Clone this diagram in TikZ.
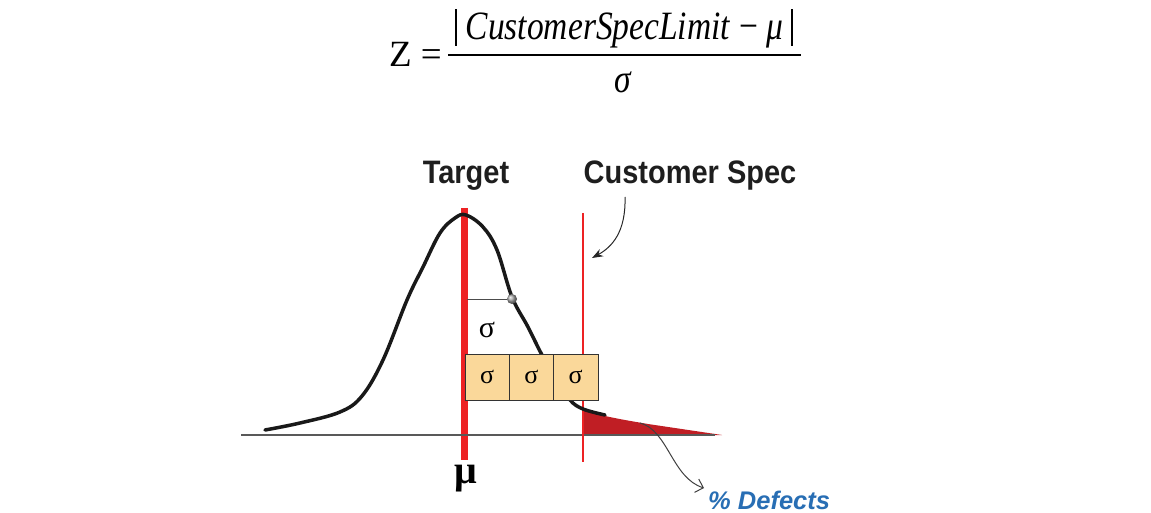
\documentclass[tikz,border=0pt]{standalone}
\usepackage{fontspec}
\setmainfont{Liberation Serif}
\setsansfont{Liberation Sans}
\usepackage{graphicx}
\definecolor{tgtred}{RGB}{237,34,36}
\definecolor{defred}{RGB}{192,30,36}
\definecolor{boxfill}{RGB}{250,216,154}
\definecolor{defblue}{RGB}{40,110,180}
\definecolor{labelink}{RGB}{30,30,30}
\usetikzlibrary{arrows.meta,positioning,calc}

\begin{document}
\begin{tikzpicture}[x=1pt,y=-1pt,
  sigbox/.style={draw=black!80, fill=boxfill, line width=0.8pt, minimum width=44.3pt,
    minimum height=46pt, inner sep=0pt, outer sep=0pt, font=\fontsize{26}{28}\selectfont},
  headlabel/.style={font=\sffamily\bfseries\fontsize{29}{32}\selectfont, text=labelink, inner sep=0pt},
  formula/.style={font=\fontsize{33.5}{36}\selectfont, inner sep=0pt}]
\useasboundingbox (0,0) rectangle (1151,513);

% Z formula
\node[formula, font=\fontsize{37}{40}\selectfont, anchor=base east] (zeq) at (442,67) {Z =};
\node[formula, anchor=base] (num) at (624,40)
  {\scalebox{1}[1.2]{\rule[-5pt]{1.5pt}{31pt}\hspace{9pt}\textit{CustomerSpecLimit} − \textit{μ}\hspace{8pt}\rule[-5pt]{1.5pt}{31pt}}};
\draw[line width=1.6pt] (448,55) -- (801,55);
\node[formula] (den) at (623,82) {\scalebox{1}[1.2]{\textit{σ}}};

% Headings
\node[headlabel, anchor=base] (target) at (466,184) {\scalebox{1}[1.12]{Target}};
\node[headlabel, anchor=base] (spec) at (690,184) {\scalebox{1}[1.12]{Customer Spec}};

% Defect tail
\fill[defred] (583,435) -- (583,410) .. controls (605,417) and (625,420) .. (648,424) -- (722,435) -- cycle;

% Axis and limit lines
\draw[tgtred, line width=7pt] (464,208) -- (464,460);
\draw[black!65, line width=1.2pt] (241,435) -- (715,435);
\draw[tgtred, line width=1.2pt] (583,213) -- (583,462);

% Bell curve
\draw[line width=3.5pt, black!90, line cap=round] plot[smooth, tension=0.6] coordinates {
  (265,430) (300,423) (340,412) (362,396) (383,360) (407,300) (423,267) (440,233)
  (455,218) (466,215) (483,227) (497,250) (512,297) (528,327) (542,355) (556,379)
  (570,400) (583,409) (605,415)};

% One sigma marker
\coordinate (sigfoot) at (467,299);
\node[circle, ball color=black!35, inner sep=0pt, minimum size=10pt] (dot) at (512,299) {};
\draw[black!70, line width=0.9pt] (sigfoot) -- (dot);
\node[font=\fontsize{30}{32}\selectfont] (sigfree) at (487,330) {σ};

% Three sigma boxes
\node[sigbox, anchor=north west] (sg1) at (465,354) {σ};
\node[sigbox, right=0pt of sg1] (sg2) {σ};
\node[sigbox, right=0pt of sg2] (sg3) {σ};

% Mean label
\node[font=\bfseries\fontsize{40}{42}\selectfont] (mu) at (466,479) {μ};

% Pointers
\coordinate (specfoot) at (625,197);
\coordinate (specline) at (592,258);
\draw[-{Stealth[length=11pt,width=8pt]}, line width=1pt, black!85]
  (specfoot) .. controls (626,232) and (612,247) .. (specline);

\node[font=\sffamily\bfseries\itshape\fontsize{25.5}{28}\selectfont, text=defblue,
  anchor=west, inner sep=0pt] (defects) at (708,500) {\% Defects};
\coordinate (tailpt) at (640,423);
\draw[-{Straight Barb[length=7pt]}, line width=1pt, black!75]
  (tailpt) .. controls (668,430) and (672,478) .. ($(defects.west)+(-4,-12)$);
\end{tikzpicture}
\end{document}
